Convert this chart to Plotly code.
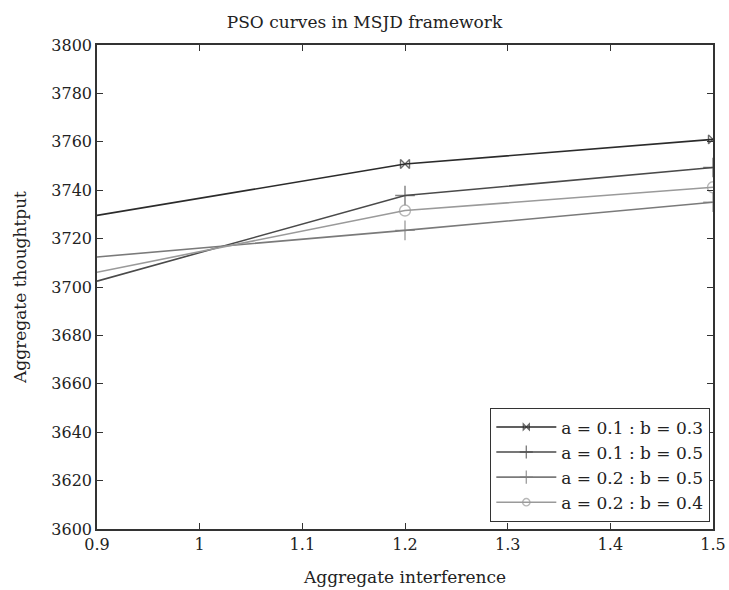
import plotly.graph_objects as go

x_vals = [0.9, 1.2, 1.5]
s1 = [3729.6, 3750.8, 3761.0]   # a = 0.1 : b = 0.3
s2 = [3702.4, 3737.8, 3749.4]   # a = 0.1 : b = 0.5
s3 = [3712.4, 3723.4, 3735.0]   # a = 0.2 : b = 0.5
s4 = [3706.1, 3731.6, 3741.2]   # a = 0.2 : b = 0.4
names = ["a = 0.1 : b = 0.3", "a = 0.1 : b = 0.5", "a = 0.2 : b = 0.5", "a = 0.2 : b = 0.4"]
x_ticks = [0.9, 1.0, 1.1, 1.2, 1.3, 1.4, 1.5]
x_tick_text = ["0.9", "1", "1.1", "1.2", "1.3", "1.4", "1.5"]
y_ticks = list(range(3600, 3801, 20))

FONT = "DejaVu Serif"
colors = ["#2b2b2b", "#4a4a4a", "#7a7a7a", "#9a9a9a"]
symbols = ["bowtie-open", "cross-thin-open", "cross-thin-open", "circle-open"]
sizes = [9, 14, 14, 11]

fig = go.Figure()
for ys, nm, c, sym, sz in zip([s1, s2, s3, s4], names, colors, symbols, sizes):
    fig.add_trace(go.Scatter(
        x=x_vals, y=ys, name=nm, mode="lines+markers",
        line=dict(color=c, width=1.6),
        marker=dict(symbol=sym, size=[0, sz, sz], color=c,
                    line=dict(color=c, width=1.4)),
        cliponaxis=True,
    ))

axis_common = dict(
    showline=True, linecolor="#333", linewidth=1.6, mirror="ticks",
    ticks="inside", ticklen=6, tickwidth=1.4, tickcolor="#333",
    showgrid=False, zeroline=False, automargin=False,
    tickfont=dict(family=FONT, size=16, color="#222"),
)

fig.update_layout(
    width=729, height=590,
    margin=dict(l=97, r=16, t=45, b=61),
    paper_bgcolor="white", plot_bgcolor="white",
    title=dict(text="PSO curves in MSJD framework", x=0.5, xanchor="center",
               y=1 - 22 / 590, yanchor="middle",
               font=dict(family=FONT, size=17, color="#222")),
    xaxis=dict(range=[0.9, 1.5], tickvals=x_ticks, ticktext=x_tick_text,
               title=dict(text="Aggregate interference", standoff=18,
                          font=dict(family=FONT, size=17, color="#222")),
               **axis_common),
    yaxis=dict(range=[3600, 3800], tickvals=y_ticks,
               title=dict(text="Aggregate thoughtput", standoff=20,
                          font=dict(family=FONT, size=17, color="#222")),
               **axis_common),
    legend=dict(x=0.995, y=0.0145, xanchor="right", yanchor="bottom",
                bgcolor="white", bordercolor="#333", borderwidth=1.4,
                font=dict(family=FONT, size=17, color="#222"),
                itemwidth=60, tracegroupgap=0),
    showlegend=True,
)

fig.write_html("out.html")
